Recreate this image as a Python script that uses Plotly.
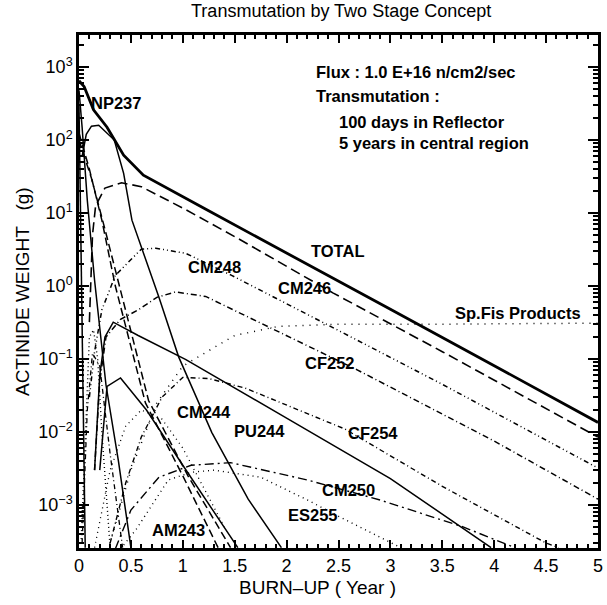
import plotly.graph_objects as go

# ---------------- data ----------------
total_x = [0, 0.05, 0.14, 0.27, 0.43, 0.62, 1.2, 2.11, 3.0, 4.0, 5.0]
total_y = [650, 540, 260, 150, 62, 33, 11.7, 2.3, 0.48, 0.081, 0.0135]

np237_x = [0, 0.03, 0.08, 0.15, 0.26, 0.38, 0.5]
np237_y = [480, 150, 15, 1.2, 0.044, 0.004, 0.00026]

am241_x = [0, 0.02, 0.04, 0.06]
am241_y = [300, 2, 0.01, 0.00026]

am243_x = [0, 0.1, 0.22, 0.35, 0.64, 1.0, 1.34]
am243_y = [125, 40, 8, 1.0, 0.025, 0.0025, 0.00026]

pu242_x = [0, 0.12, 0.25, 0.4, 0.67, 1.05, 1.46]
pu242_y = [100, 30, 6, 0.9, 0.027, 0.0025, 0.00026]

cm244_x = [0.03, 0.07, 0.12, 0.19, 0.34, 0.43, 0.51, 0.77, 0.96, 1.28, 1.63, 1.95]
cm244_y = [60, 120, 155, 160, 100, 35, 8, 0.7, 0.107, 0.0098, 0.0012, 0.00026]

cm245_x = [0.2, 0.27, 0.4, 0.65, 1.0, 1.53]
cm245_y = [0.003, 0.042, 0.055, 0.02, 0.0035, 0.00026]

pu244_x = [0.15, 0.2, 0.25, 0.33, 0.57, 1.03, 2.0, 3.0, 3.97]
pu244_y = [0.003, 0.06, 0.2, 0.32, 0.21, 0.098, 0.0155, 0.0023, 0.00026]

cm246_x = [0.1, 0.13, 0.16, 0.25, 0.41, 0.6, 1.0, 1.53, 2.45, 3.5, 5.0]
cm246_y = [0.32, 5, 12.6, 22, 26, 23, 11.7, 4.5, 0.8, 0.126, 0.0085]

cm248_x = [0.1, 0.15, 0.22, 0.35, 0.6, 0.74, 1.03, 1.47, 2.49, 3.5, 5.0]
cm248_y = [0.03, 0.126, 0.47, 1.4, 3.2, 3.3, 2.8, 1.4, 0.25, 0.045, 0.0032]

cf252_x = [0.15, 0.2, 0.26, 0.4, 0.57, 0.75, 0.93, 1.22, 2.68, 4.0, 5.0]
cf252_y = [0.003, 0.05, 0.2, 0.35, 0.47, 0.7, 0.83, 0.72, 0.071, 0.0075, 0.0012]

cf254_x = [0.3, 0.45, 0.6, 0.8, 1.0, 1.25, 1.6, 2.56, 3.5, 4.5, 4.62]
cf254_y = [0.0003, 0.002, 0.0085, 0.03, 0.056, 0.054, 0.04, 0.011, 0.0018, 0.0003, 0.00026]

spfis_x = [0.3, 0.5, 0.75, 1.0, 1.25, 1.5, 1.92, 2.5, 3.5, 5.0]
spfis_y = [0.0003, 0.003, 0.025, 0.08, 0.13, 0.21, 0.28, 0.3, 0.3, 0.31]

cm250_x = [0.35, 0.5, 0.77, 1.08, 1.46, 2.2, 2.9, 3.7, 4.2]
cm250_y = [0.00025, 0.00085, 0.0024, 0.0035, 0.0038, 0.0022, 0.00117, 0.0005, 0.00026]

es255_x = [0.4, 0.55, 0.86, 1.08, 1.3, 1.75, 2.2, 2.5, 3.1]
es255_y = [0.00025, 0.00046, 0.0022, 0.0028, 0.003, 0.0024, 0.00117, 0.0007, 0.00026]

u1_x = [0.03, 0.08, 0.13, 0.2, 0.3, 0.42]
u1_y = [0.0003, 0.02, 0.12, 0.08, 0.005, 0.00026]

u2_x = [0.02, 0.06, 0.1, 0.14, 0.18, 0.22, 0.3]
u2_y = [0.0003, 0.01, 0.2, 0.25, 0.1, 0.01, 0.00026]

u3_x = [0.15, 0.3, 0.45, 0.6, 0.8, 1.0, 1.4]
u3_y = [0.00026, 0.003, 0.012, 0.02, 0.015, 0.006, 0.0005]

x_ticks = [0, 0.5, 1, 1.5, 2, 2.5, 3, 3.5, 4, 4.5, 5]
x_ticktext = ["0", "0.5", "1", "1.5", "2", "2.5", "3", "3.5", "4", "4.5", "5"]
y_ticks = [1e-3, 1e-2, 1e-1, 1e0, 1e1, 1e2, 1e3]
y_ticktext = ["10<sup>\u22123</sup>", "10<sup>\u22122</sup>", "10<sup>\u22121</sup>",
              "10<sup>0</sup>", "10<sup>1</sup>", "10<sup>2</sup>", "10<sup>3</sup>"]

# label: (text, x, log10 y)
labels = [
    ("NP237", 0.354, 2.507), ("TOTAL", 2.495, 0.479), ("CM248", 1.31, 0.26),
    ("CM246", 2.17, -0.027), ("Sp.Fis Products", 4.226, -0.37), ("CF252", 2.42, -1.055),
    ("CM244", 1.205, -1.726), ("PU244", 1.74, -1.986), ("CF254", 2.83, -2.01),
    ("CM250", 2.6, -2.795), ("ES255", 2.256, -3.137), ("AM243", 0.956, -3.342),
]
info_lines = [
    ("Flux : 1.0 E+16 n/cm2/sec", 2.266, 2.93),
    ("Transmutation :", 2.266, 2.60),
    ("100 days in Reflector", 2.486, 2.247),
    ("5 years in central region", 2.486, 1.96),
]

FONT = "Liberation Sans, Arial, sans-serif"

series = [
    (total_x, total_y, "solid", 2.8),
    (np237_x, np237_y, "solid", 1.5),
    (am241_x, am241_y, "solid", 1.5),
    (am243_x, am243_y, "8px,4px", 1.5),
    (pu242_x, pu242_y, "8px,4px", 1.5),
    (cm244_x, cm244_y, "solid", 1.5),
    (cm245_x, cm245_y, "solid", 1.5),
    (pu244_x, pu244_y, "solid", 1.5),
    (cm246_x, cm246_y, "10px,5px", 1.6),
    (cm248_x, cm248_y, "5px,3px,1px,3px,1px,3px", 1.5),
    (cf252_x, cf252_y, "6px,3px,1px,3px", 1.5),
    (cf254_x, cf254_y, "5px,3px,1px,3px", 1.4),
    (spfis_x, spfis_y, "1px,6px", 1.5),
    (cm250_x, cm250_y, "9px,4px,2px,4px", 1.4),
    (es255_x, es255_y, "1px,4px", 1.4),
    (u1_x, u1_y, "5px,3px,1px,3px", 1.3),
    (u2_x, u2_y, "1px,3px", 1.4),
    (u3_x, u3_y, "1px,4px", 1.3),
]

fig = go.Figure()
for xs, ys, dash, w in series:
    fig.add_trace(go.Scatter(x=xs, y=ys, mode="lines",
                             line=dict(color="black", width=w, dash=dash),
                             showlegend=False, hoverinfo="skip"))

for text, x, ly in labels:
    fig.add_annotation(x=x, y=ly, xref="x", yref="y", text=text,
                       showarrow=False,
                       font=dict(family=FONT, size=16.5, color="black", weight="bold"))
for text, x, ly in info_lines:
    fig.add_annotation(x=x, y=ly, xref="x", yref="y", text=text,
                       showarrow=False, xanchor="left",
                       font=dict(family=FONT, size=16.5, color="black", weight="bold"))

# small pointer near the TOTAL line
fig.add_shape(type="line", xref="x", yref="y", x0=4.2, x1=4.37, y0=-1.22, y1=-1.25,
              line=dict(color="black", width=1.5))

minor_y = [k * 10.0 ** e for e in range(-4, 4) for k in range(2, 10)]

fig.update_layout(
    width=607, height=605,
    margin=dict(l=79, r=4, t=35, b=57),
    paper_bgcolor="white", plot_bgcolor="white",
    font=dict(family=FONT, color="black"),
    title=dict(text="Transmutation by Two Stage Concept", x=0.562, xanchor="center",
               y=0.982, yanchor="middle", font=dict(family=FONT, size=18, color="black")),
    xaxis=dict(range=[0, 5], tickvals=x_ticks, ticktext=x_ticktext,
               ticks="inside", ticklen=8, tickwidth=1.5, tickcolor="black",
               showline=True, linewidth=2.5, linecolor="black", mirror="allticks",
               showgrid=False, zeroline=False,
               tickfont=dict(family=FONT, size=18, color="black"),
               minor=dict(dtick=0.1, ticks="inside", ticklen=4, tickcolor="black", showgrid=False)),
    yaxis=dict(type="log", range=[-3.59, 3.44], tickvals=y_ticks, ticktext=y_ticktext,
               ticks="inside", ticklen=10, tickwidth=1.5, tickcolor="black",
               showline=True, linewidth=2.5, linecolor="black", mirror="allticks",
               showgrid=False, zeroline=False,
               tickfont=dict(family=FONT, size=18, color="black"),
               minor=dict(tickmode="array", tickvals=minor_y, ticks="inside", ticklen=5,
                          tickcolor="black", showgrid=False)),
)

fig.add_annotation(x=(320 - 79) / 524.0, y=-0.077, xref="paper", yref="paper",
                   text="BURN\u2013UP ( Year )", showarrow=False, yanchor="middle",
                   xanchor="center",
                   font=dict(family=FONT, size=19, color="black"))
fig.add_annotation(x=(22 - 79) / 524.0, y=0.5, xref="paper", yref="paper",
                   text="ACTINIDE WEIGHT   (g)", showarrow=False, textangle=-90,
                   xanchor="center", yanchor="middle",
                   font=dict(family=FONT, size=19, color="black"))

fig.write_html("out.html")
